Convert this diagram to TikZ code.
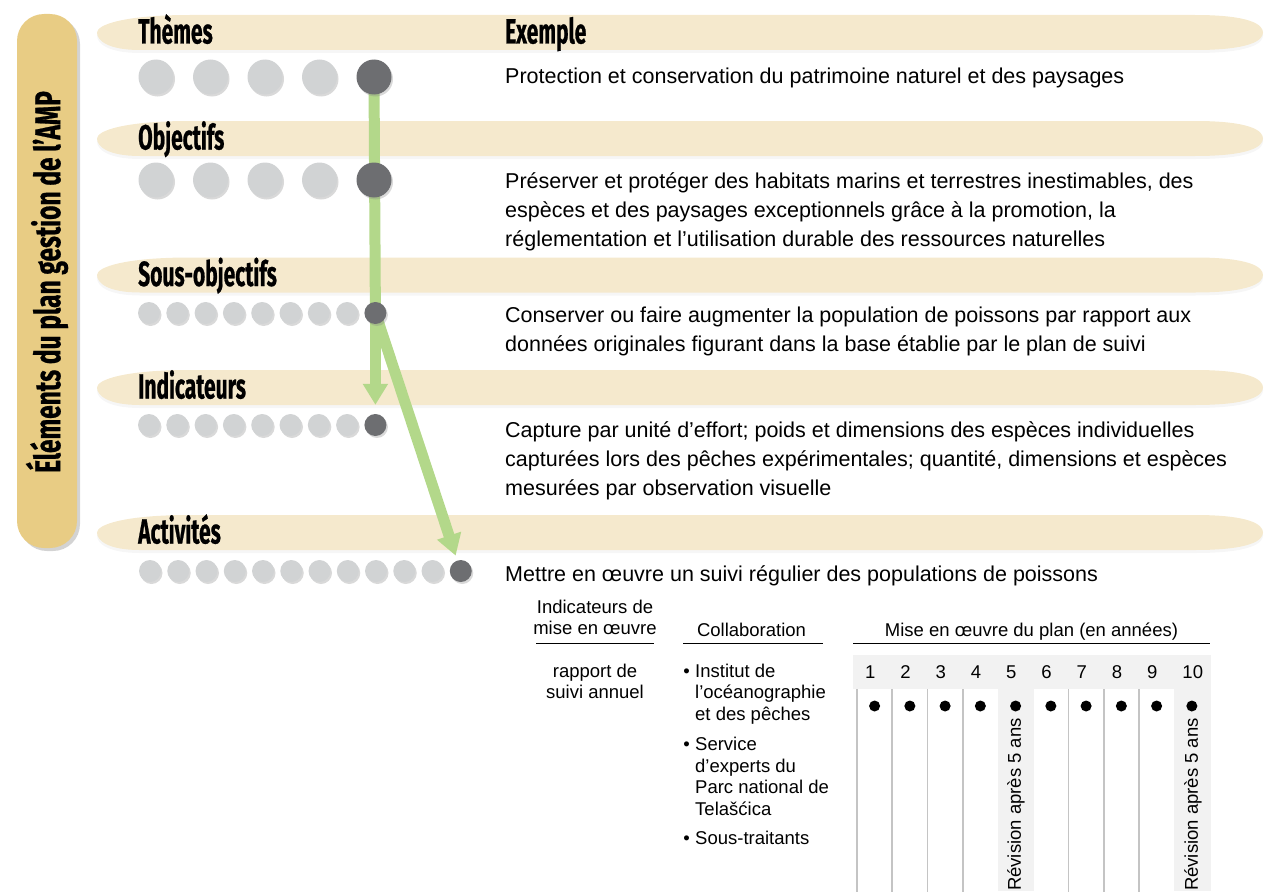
\documentclass[tikz,border=0pt]{standalone}
\usepackage{fontspec}
\setmainfont{Liberation Sans}
\newfontfamily\condfont[FakeStretch=0.6,BoldFeatures={FakeBold=0.6}]{Fira Sans}
\newfontfamily\spinefont[FakeStretch=0.68,BoldFeatures={FakeBold=0.6}]{Fira Sans}
\usetikzlibrary{arrows.meta,shadows,backgrounds}

\definecolor{bandbeige}{HTML}{F5E9CD}
\definecolor{barsand}{HTML}{E8CC84}
\definecolor{dotlight}{HTML}{D1D3D4}
\definecolor{dotdark}{HTML}{6D6E71}
\definecolor{leafgreen}{HTML}{B3D88A}
\definecolor{cellgray}{HTML}{F2F2F2}
\definecolor{rulegray}{HTML}{C4C4C4}

\tikzset{
  band/.style={fill=bandbeige, drop shadow={opacity=0.07,shadow xshift=0pt,shadow yshift=-3pt}},
  heading/.style={anchor=base west, inner sep=0pt, font=\condfont\bfseries\fontsize{35}{35}\selectfont},
  bigdot/.style={circle, minimum size=35pt, inner sep=0pt, fill=dotlight,
    drop shadow={opacity=0.3,shadow xshift=1.5pt,shadow yshift=-2pt}},
  smalldot/.style={bigdot, minimum size=22pt},
  picked/.style={fill=dotdark},
  greenline/.style={draw=leafgreen, line width=11pt},
  greenarrow/.style={greenline, -{Triangle[width=24pt,length=21pt]}},
  bodytext/.style={anchor=north west, inner sep=0pt, align=left,
    font=\fontsize{21.5}{29}\selectfont},
  tabtext/.style={inner sep=0pt, font=\fontsize{18.5}{21.5}\selectfont},
  colrule/.style={draw=rulegray, line width=1.6pt},
  yeardot/.style={circle, fill=black, minimum size=11pt, inner sep=0pt}
}

\begin{document}
\begin{tikzpicture}[x=1pt,y=-1pt]
\useasboundingbox (0,0) rectangle (1284,891);

% left title bar
\fill[barsand, rounded corners=27pt, drop shadow={opacity=0.35,shadow xshift=3pt,shadow yshift=-3pt}]
  (17,14) rectangle (77,548);
\node[rotate=90, inner sep=0pt, font=\spinefont\bfseries\fontsize{36}{36}\selectfont]
  (spinetitle) at (47,282) {Éléments du plan gestion de l’AMP};

% bands
\begin{pgfonlayer}{background}
\foreach \cy in {32.5,138.5,275,387.5,532.5}
  \fill[band, shift={(0,\cy)}] (97,0) .. controls (97,-8) and (125,-17.5) .. (190,-17.5)
    -- (1195,-17.5) .. controls (1250,-17.5) and (1263,-8) .. (1263,0)
    .. controls (1263,8) and (1250,17.5) .. (1195,17.5)
    -- (140,17.5) .. controls (108,17.5) and (97,8) .. (97,0) -- cycle;
\end{pgfonlayer}

\node[heading] (themes) at (138,43.5) {Thèmes};
\node[heading] (exemple) at (505,43.5) {Exemple};
\node[heading] (objectifs) at (138,149.5) {Objectifs};
\node[heading] (sousobj) at (138,286) {Sous-objectifs};
\node[heading] (indic) at (138,398.5) {Indicateurs};
\node[heading] (activ) at (138,543.5) {Activités};

% dots
\foreach \i in {1,...,4}{
  \node[bigdot] (th\i) at ({156+54.5*(\i-1)},77) {};
  \node[bigdot] (ob\i) at ({156+54.5*(\i-1)},180) {};
}
\node[bigdot,picked] (th5) at (374,77) {};
\node[bigdot,picked] (ob5) at (374,180) {};
\foreach \i in {1,...,8}{
  \node[smalldot] (so\i) at ({149+28.3*(\i-1)},313) {};
  \node[smalldot] (in\i) at ({149+28.3*(\i-1)},425) {};
}
\node[smalldot,picked] (so9) at (375.4,313) {};
\node[smalldot,picked] (in9) at (375.4,425) {};
\foreach \i in {1,...,11}
  \node[smalldot] (ac\i) at ({150+28.25*(\i-1)},571) {};
\node[smalldot,picked] (ac12) at (460.75,571) {};

% green links
\begin{pgfonlayer}{background}
\draw[greenline] (th5.center) -- (so9.center);
\draw[greenarrow, shorten >=9pt] (so9.center) -- (in9);
\draw[greenarrow, shorten >=5pt] (so9.center) -- (ac12);
\end{pgfonlayer}

% examples
\node[bodytext] (ex1) at (505,68) {Protection et conservation du patrimoine naturel et des paysages};
\node[bodytext] (ex2) at (505,172) {Préserver et protéger des habitats marins et terrestres inestimables, des\\
  espèces et des paysages exceptionnels grâce à la promotion, la\\
  réglementation et l’utilisation durable des ressources naturelles};
\node[bodytext] (ex3) at (505,307) {Conserver ou faire augmenter la population de poissons par rapport aux\\
  données originales figurant dans la base établie par le plan de suivi};
\node[bodytext] (ex4) at (505,421) {Capture par unité d’effort; poids et dimensions des espèces individuelles\\
  capturées lors des pêches expérimentales; quantité, dimensions et espèces\\
  mesurées par observation visuelle};
\node[bodytext] (ex5) at (505,565) {Mettre en œuvre un suivi régulier des populations de poissons};

% table heads
\node[tabtext, anchor=north, align=center] (colind) at (595,599.5) {Indicateurs de\\mise en œuvre};
\node[tabtext, anchor=base] (colcollab) at (751.5,636.5) {Collaboration};
\node[tabtext, anchor=base] (colplan) at (1031.5,636.5) {Mise en œuvre du plan (en années)};
\draw[line width=1.4pt] (536,643.5) -- (654,643.5);
\draw[line width=1.4pt] (683,643.5) -- (823,643.5);
\draw[line width=1.4pt] (853,643.5) -- (1210,643.5);

% table body
\node[tabtext, anchor=north, align=center] (rapport) at (595,663.5) {rapport de\\suivi annuel};
\node[tabtext, anchor=north west, align=left] (collab1) at (695,663.5) {Institut de\\l’océanographie\\et des pêches};
\node[tabtext, anchor=north west, align=left] (collab2) at (695,737) {Service\\d’experts du\\Parc national de\\Telašćica};
\node[tabtext, anchor=north west, align=left] (collab3) at (695,831) {Sous-traitants};
\foreach \b in {1,2,3}
  \node[tabtext, anchor=base east] (bul\b) at ([xshift=-5pt,yshift=-13.6pt]collab\b.north west) {•};

% year grid
\fill[cellgray] (853,655) rectangle (1211,689);
\fill[cellgray] (998,689) rectangle (1033.5,891);
\fill[cellgray] (1174.25,689) rectangle (1211,891);
\foreach \k in {1,2,3,4,7,8,9}
  \draw[colrule] ({857+35.25*(\k-1)},689) -- ++(0,210);
\foreach \k in {1,...,10}{
  \node[tabtext, anchor=base west] (yr\k) at ({857+35.25*(\k-1)+8},678.5) {\k};
  \node[yeardot] (dot\k) at ({874.6+35.25*(\k-1)},706) {};
}
\node[tabtext, rotate=90, anchor=east] (rev5) at (1016,718) {Révision après 5 ans};
\node[tabtext, rotate=90, anchor=east] (rev10) at (1193,718) {Révision après 5 ans};
\end{tikzpicture}
\end{document}
